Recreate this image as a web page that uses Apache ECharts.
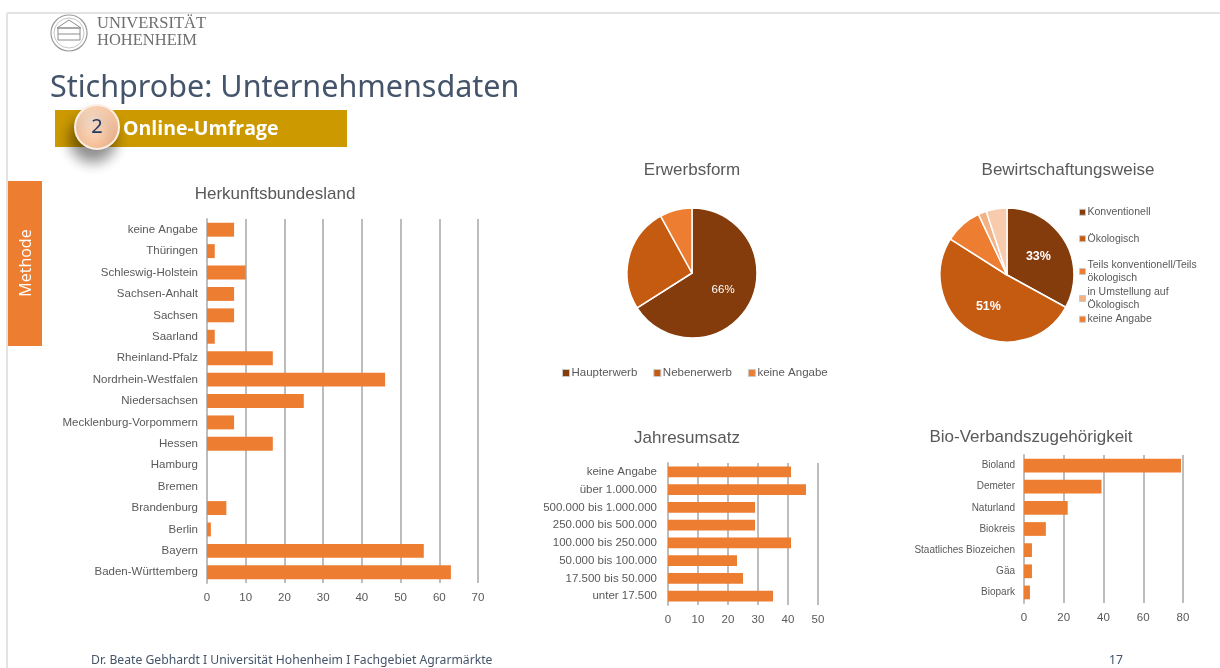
<!DOCTYPE html>
<html>
<head>
<meta charset="utf-8">
<script src="https://cdn.jsdelivr.net/npm/echarts@6/dist/echarts.min.js"></script>
<style>
  html, body { margin: 0; padding: 0; background: #fff; }
  #chart { width: 1220px; height: 668px; }
</style>
</head>
<body>
<div id="chart"></div>
<script>
// Herkunftsbundesland (bottom to top)
const herkunftCats = ['Baden-Württemberg', 'Bayern', 'Berlin', 'Brandenburg', 'Bremen', 'Hamburg', 'Hessen',
  'Mecklenburg-Vorpommern', 'Niedersachsen', 'Nordrhein-Westfalen', 'Rheinland-Pfalz', 'Saarland', 'Sachsen',
  'Sachsen-Anhalt', 'Schleswig-Holstein', 'Thüringen', 'keine Angabe']
const herkunftValues = [63, 56, 1, 5, 0, 0, 17, 7, 25, 46, 17, 2, 7, 7, 10, 2, 7]

// Erwerbsform (%)
const erwerbCats = ['Haupterwerb', 'Nebenerwerb', 'keine Angabe']
const erwerbValues = [66, 26, 8]

// Bewirtschaftungsweise (%)
const bewirtCats = ['Konventionell', 'Ökologisch', 'Teils konventionell/Teils ökologisch',
  'in Umstellung auf Ökologisch', 'keine Angabe']
const bewirtValues = [33, 51, 9, 2, 5]

// Jahresumsatz (bottom to top)
const umsatzCats = ['unter 17.500', '17.500 bis 50.000', '50.000 bis 100.000', '100.000 bis 250.000',
  '250.000 bis 500.000', '500.000 bis 1.000.000', 'über 1.000.000', 'keine Angabe']
const umsatzValues = [35, 25, 23, 41, 29, 29, 46, 41]

// Bio-Verbandszugehörigkeit (bottom to top)
const bioCats = ['Biopark', 'Gäa', 'Staatliches Biozeichen', 'Biokreis', 'Naturland', 'Demeter', 'Bioland']
const bioValues = [3, 4, 4, 11, 22, 39, 79]

const pieColors = ['#843C0C', '#C55A11', '#ED7D31', '#F4B183', '#F8CBAD']
const barColor = '#ED7D31'
const textGrey = '#595959'
const gridGrey = '#bdbdbd'
const sans = 'Arial, "Liberation Sans", sans-serif'

const chart = echarts.init(document.getElementById('chart'))

const catAxis = (gridIndex, data, fontSize, margin) => ({
  type: 'category',
  gridIndex,
  data,
  axisLine: { show: true, lineStyle: { color: gridGrey, width: 2 } },
  axisTick: { show: false },
  axisLabel: { color: textGrey, fontSize, fontFamily: sans, margin }
})

const valAxis = (gridIndex, max, interval) => ({
  type: 'value',
  gridIndex,
  min: 0,
  max,
  interval,
  axisLine: { show: false },
  axisTick: { show: false },
  axisLabel: { color: textGrey, fontSize: 11.5, fontFamily: sans, margin: 9 },
  splitLine: { show: true, lineStyle: { color: gridGrey, width: 2 } }
})

const chartTitle = (x, y, text) => ({
  type: 'text',
  x, y,
  style: { text, fill: textGrey, font: '17px ' + sans, textAlign: 'center', textVerticalAlign: 'middle' }
})

const pieData = (cats, values) => cats.map((name, i) => ({
  name,
  value: values[i],
  itemStyle: { color: pieColors[i] },
  label: { show: values[i] >= 30 }
}))

const option = {
  animation: false,
  textStyle: { fontFamily: sans },
  grid: [
    { left: 207, top: 219, width: 271, height: 364 },
    { left: 668, top: 463, width: 150, height: 142 },
    { left: 1024, top: 455, width: 159, height: 148 }
  ],
  xAxis: [
    valAxis(0, 70, 10),
    valAxis(1, 50, 10),
    valAxis(2, 80, 20)
  ],
  yAxis: [
    catAxis(0, herkunftCats, 11.5, 9),
    catAxis(1, umsatzCats, 11.5, 11),
    catAxis(2, bioCats, 10, 9)
  ],
  legend: [
    {
      data: erwerbCats,
      left: 562, top: 367,
      orient: 'horizontal',
      icon: 'rect', itemWidth: 7, itemHeight: 7, itemGap: 16,
      padding: 0,
      itemStyle: { borderColor: '#c8c8c8', borderWidth: 1 },
      textStyle: { color: textGrey, fontSize: 11.5, fontFamily: sans, padding: [0, 0, 0, -3] }
    },
    {
      data: bewirtCats.slice(0, 2),
      left: 1079, top: 206,
      orient: 'vertical',
      icon: 'rect', itemWidth: 6, itemHeight: 6, itemGap: 14,
      padding: 0,
      itemStyle: { borderColor: '#c8c8c8', borderWidth: 1 },
      textStyle: { color: textGrey, fontSize: 10.5, fontFamily: sans, lineHeight: 12.5, padding: [0, 0, 0, -3] }
    },
    {
      data: bewirtCats.slice(2),
      left: 1079, top: 259,
      orient: 'vertical',
      icon: 'rect', itemWidth: 6, itemHeight: 6, itemGap: 2,
      padding: 0,
      itemStyle: { borderColor: '#c8c8c8', borderWidth: 1 },
      formatter: (name) => name.replace('/Teils ', '/Teils\n').replace('auf ', 'auf\n'),
      textStyle: { color: textGrey, fontSize: 10.5, fontFamily: sans, lineHeight: 12.5, padding: [0, 0, 0, -3] }
    }
  ],
  series: [
    {
      type: 'bar',
      xAxisIndex: 0, yAxisIndex: 0,
      data: herkunftValues,
      barCategoryGap: '35%',
      itemStyle: { color: barColor }
    },
    {
      type: 'bar',
      xAxisIndex: 1, yAxisIndex: 1,
      data: umsatzValues,
      barCategoryGap: '40%',
      itemStyle: { color: barColor }
    },
    {
      type: 'bar',
      xAxisIndex: 2, yAxisIndex: 2,
      data: bioValues,
      barCategoryGap: '35%',
      itemStyle: { color: barColor }
    },
    {
      type: 'pie',
      center: [692, 273],
      radius: 65,
      startAngle: 90,
      percentPrecision: 0,
      data: pieData(erwerbCats, erwerbValues),
      itemStyle: { borderColor: '#fff', borderWidth: 1.5 },
      label: { position: 'inside', formatter: '{d}%', color: '#fff', fontSize: 11.5, fontFamily: sans },
      labelLine: { show: false },
      emphasis: { disabled: true }
    },
    {
      type: 'pie',
      center: [1007, 275],
      radius: 67,
      startAngle: 90,
      percentPrecision: 0,
      data: pieData(bewirtCats, bewirtValues),
      itemStyle: { borderColor: '#fff', borderWidth: 1.5 },
      label: { position: 'inside', formatter: '{d}%', color: '#fff', fontSize: 12.5, fontWeight: 'bold', fontFamily: sans },
      labelLine: { show: false },
      emphasis: { disabled: true }
    }
  ],
  graphic: [
    // slide frame
    { type: 'line', shape: { x1: 7, y1: 13, x2: 1220, y2: 13 }, style: { stroke: '#e3e3e3', lineWidth: 2 } },
    { type: 'line', shape: { x1: 7, y1: 13, x2: 7, y2: 668 }, style: { stroke: '#e3e3e3', lineWidth: 2 } },
    // logo
    { type: 'circle', shape: { cx: 69, cy: 33, r: 18 }, style: { fill: '#fff', stroke: '#9a9a9a', lineWidth: 1.2 } },
    { type: 'circle', shape: { cx: 69, cy: 33, r: 15 }, style: { fill: 'none', stroke: '#b5b5b5', lineWidth: 0.8 } },
    { type: 'rect', shape: { x: 58, y: 28, width: 22, height: 12 }, style: { fill: 'none', stroke: '#8c8c8c', lineWidth: 1 } },
    { type: 'polygon', shape: { points: [[57, 28], [69, 20], [81, 28]] }, style: { fill: 'none', stroke: '#8c8c8c', lineWidth: 1 } },
    { type: 'line', shape: { x1: 58, y1: 34, x2: 80, y2: 34 }, style: { stroke: '#8c8c8c', lineWidth: 1 } },
    {
      type: 'text', x: 97, y: 24,
      style: { text: 'UNIVERSITÄT', fill: '#6f6f6f', font: '16.5px "Liberation Serif", "DejaVu Serif", serif', textVerticalAlign: 'middle' }
    },
    {
      type: 'text', x: 97, y: 41,
      style: { text: 'HOHENHEIM', fill: '#6f6f6f', font: '16.5px "Liberation Serif", "DejaVu Serif", serif', textVerticalAlign: 'middle' }
    },
    // slide title
    {
      type: 'text', x: 50, y: 88,
      style: { text: 'Stichprobe: Unternehmensdaten', fill: '#44546A', font: '30.5px "Noto Sans", "Open Sans", sans-serif', textVerticalAlign: 'middle' }
    },
    // banner
    { type: 'rect', shape: { x: 55, y: 110, width: 292, height: 37 }, style: { fill: '#CC9A00' } },
    {
      type: 'circle', shape: { cx: 97, cy: 127, r: 22 },
      style: {
        fill: new echarts.graphic.RadialGradient(0.4, 0.35, 0.8, [
          { offset: 0, color: '#FDE3CE' },
          { offset: 1, color: '#F4B183' }
        ]),
        stroke: '#fbeee4', lineWidth: 2,
        shadowBlur: 14, shadowColor: 'rgba(0,0,0,0.45)', shadowOffsetX: -4, shadowOffsetY: 12
      }
    },
    {
      type: 'text', x: 97, y: 127,
      style: { text: '2', fill: '#1F3864', font: '20px "Noto Sans", "Open Sans", sans-serif', textAlign: 'center', textVerticalAlign: 'middle' }
    },
    {
      type: 'text', x: 123, y: 129,
      style: { text: 'Online-Umfrage', fill: '#fff', font: 'bold 19.5px "Open Sans", "Noto Sans", sans-serif', textVerticalAlign: 'middle' }
    },
    // side tab
    { type: 'rect', shape: { x: 8, y: 181, width: 34, height: 165 }, style: { fill: '#ED7D31' } },
    {
      type: 'text', x: 26, y: 263, rotation: Math.PI / 2,
      style: { text: 'Methode', fill: '#fff', font: '16px "Open Sans", "Noto Sans", sans-serif', textAlign: 'center', textVerticalAlign: 'middle' }
    },
    // chart titles
    chartTitle(275, 194, 'Herkunftsbundesland'),
    chartTitle(692, 170, 'Erwerbsform'),
    chartTitle(1068, 170, 'Bewirtschaftungsweise'),
    chartTitle(687, 438, 'Jahresumsatz'),
    chartTitle(1031, 437, 'Bio-Verbandszugehörigkeit'),
    // footer
    {
      type: 'text', x: 91, y: 661,
      style: { text: 'Dr. Beate Gebhardt I Universität Hohenheim I Fachgebiet Agrarmärkte', fill: '#44546A', font: '12.2px "Noto Sans", "Open Sans", sans-serif', textVerticalAlign: 'middle' }
    },
    {
      type: 'text', x: 1116, y: 661,
      style: { text: '17', fill: '#44546A', font: '12.2px "Noto Sans", "Open Sans", sans-serif', textAlign: 'center', textVerticalAlign: 'middle' }
    }
  ]
}

chart.setOption(option)
</script>
</body>
</html>
